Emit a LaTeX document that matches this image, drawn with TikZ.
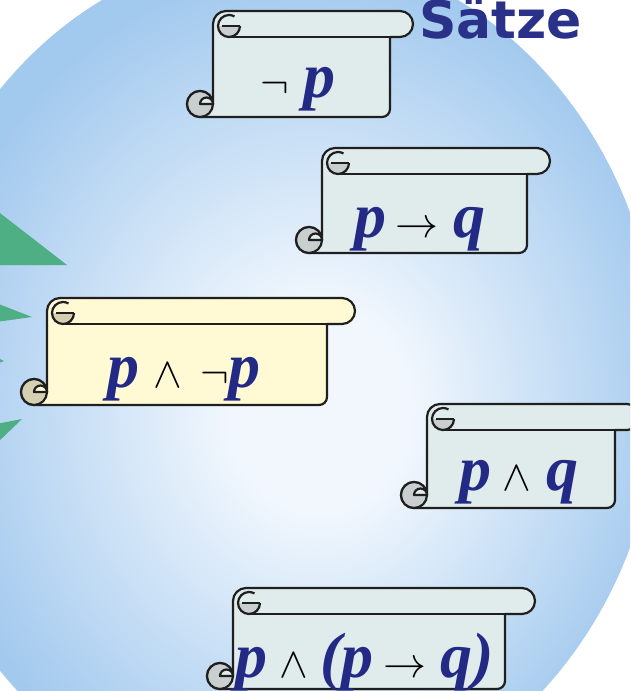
\documentclass[tikz,border=0pt]{standalone}
\usepackage{fontspec}
\usepackage{graphicx}
\usetikzlibrary{calc}
\newfontfamily\formfont{Liberation Serif}
\newfontfamily\titlefont{DejaVu Sans}
\definecolor{fnavy}{HTML}{232A86}
\definecolor{ftitle}{HTML}{2A3189}
\definecolor{fpaper}{HTML}{E0EBEB}
\definecolor{froll}{HTML}{C8CFCE}
\definecolor{fcream}{HTML}{FFFAD4}
\definecolor{fbeige}{HTML}{D6D0B2}
\definecolor{fray}{HTML}{4EAE84}
\definecolor{glowin}{HTML}{F1F7FD}
\definecolor{glowout}{HTML}{A2C9EE}
\pgfdeclareradialshading{bgglow}{\pgfpoint{3bp}{-2bp}}{color(0bp)=(glowin);
  color(6bp)=(glowin); color(25bp)=(glowout); color(50bp)=(glowout)}
\newcommand\lv[1]{{\color{fnavy}\formfont\bfseries\itshape #1}}
\newcommand\opr[1]{\scalebox{4.3}{\fontsize{10}{12}\selectfont$#1$}}
\tikzset{
  scrollline/.style = {draw=black!88, line width=2.2pt, line join=round},
  ray/.style        = {fill=fray},
  formula/.style    = {inner sep=0pt, anchor=base,
                       font=\fontsize{64}{70}\selectfont},
}

\begin{document}
\begin{tikzpicture}[x=1pt, y=-1pt]
\useasboundingbox (0,0) rectangle (630,691);
\clip (0,0) rectangle (630,691);
% ---------------- background and glow ----------------
\fill[white] (0,0) rectangle (630,691);
\shade[shading=bgglow] (280,380) ellipse[x radius=380, y radius=430];
% ---------------- green rays on the left ----------------
\foreach \ya/\xt/\ytip/\yz in {210/67/265/265, 303/32/317/322,
                                357/4/361/364, 424/22/419/444}{
  \fill[ray] (-4,\ya) -- (\xt,\ytip) -- (-4,\yz) -- cycle;}
% ---------------- scrolls ----------------
\foreach \xl/\yt/\xr/\xb/\yb/\pap/\rol in {213/11/390/413/117/fpaper/froll,
    322/148/527/550/253/fpaper/froll, 47/298/327/355/405/fcream/fbeige,
    427/404/615/640/508/fpaper/froll, 233/588/505/535/689/fpaper/froll}{
  % sheet with top bar
  \draw[scrollline, fill=\pap] (\xl,\yb-13) -- (\xl,\yt+13)
    arc[start angle=180, end angle=270, radius=13] -- (\xb-13,\yt)
    arc[start angle=-90, end angle=90, radius=13] -- (\xr,\yt+26)
    -- (\xr,\yb-8) arc[start angle=0, end angle=90, radius=8]
    -- (\xl-13,\yb) arc[start angle=90, end angle=360, radius=13] -- cycle;
  \draw[scrollline] (\xl+16,\yt+26) -- (\xr,\yt+26);
  % lower roll
  \draw[scrollline, fill=\rol] (\xl-13,\yb-13) circle[radius=13];
  \draw[scrollline, fill=\pap] (\xl-13,\yb-13)
    arc[start angle=180, end angle=360, radius=6.5] -- cycle;
  % upper roll
  \fill[\rol] (\xl+5,\yt+15) arc[start angle=180, end angle=0, radius=11] -- cycle;
  \draw[scrollline] (\xl+27,\yt+15) arc[start angle=0, end angle=300, radius=11];
  \draw[scrollline] (\xl+9,\yt+15) -- (\xl+27,\yt+15);}
% ---------------- formulas ----------------
\node[formula] (neg)    at (298,97)  {\opr{\neg}\hspace{14pt}\lv{p}};
\node[formula] (impl)   at (420,237) {\lv{p}\hspace{9pt}\opr{\to}\hspace{15pt}\lv{q}};
\node[formula] (contra) at (184,387)
      {\lv{p}\hspace{14pt}\opr{\wedge}\hspace{18pt}\opr{\neg}\lv{p}};
\node[formula] (conj)   at (519,490) {\lv{p}\hspace{11pt}\opr{\wedge}\hspace{16pt}\lv{q}};
\node[formula] (mp)     at (365,677)
      {\lv{p}\hspace{12pt}\opr{\wedge}\hspace{12pt}\lv{(p}\hspace{10pt}%
       \opr{\to}\hspace{14pt}\lv{q)}};
% ---------------- title ----------------
\node[anchor=base west, inner sep=0pt, text=ftitle,
      font=\titlefont\bfseries\fontsize{52}{56}\selectfont] (title) at (419,38) {Sätze};
\end{tikzpicture}
\end{document}
